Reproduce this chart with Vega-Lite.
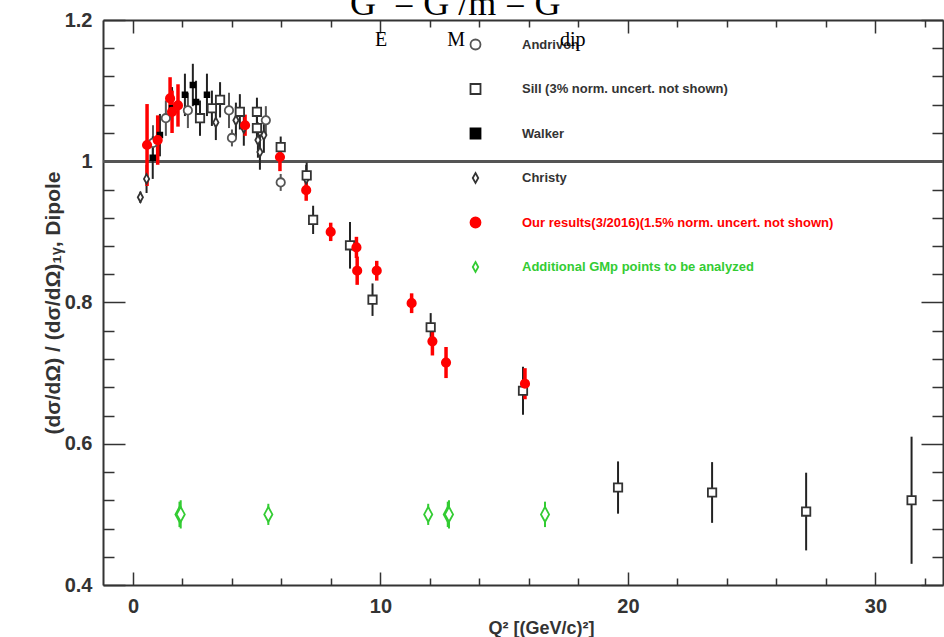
{
  "$schema": "https://vega.github.io/schema/vega-lite/v6.json",
  "width": 840,
  "height": 565,
  "autosize": {"type": "none"},
  "padding": {"left": 103, "top": 20, "right": 1, "bottom": 52},
  "background": "white",
  "config": {"view": {"stroke": null}},
  "title": {
    "text": "G\u00a0\u00a0= G\u00a0/m = G",
    "subtitle": "\u200b\u00a0\u00a0\u00a0\u00a0\u00a0E\u00a0\u00a0\u00a0\u00a0\u00a0\u00a0\u00a0\u00a0\u00a0\u00a0\u00a0\u00a0M\u00a0\u00a0\u00a0\u00a0\u00a0\u00a0\u00a0\u00a0\u00a0\u00a0\u00a0\u00a0\u00a0\u00a0\u00a0\u00a0\u00a0\u00a0\u00a0dip",
    "anchor": "start",
    "frame": "group",
    "dx": 247,
    "offset": -41,
    "font": "Liberation Serif",
    "fontSize": 36,
    "fontWeight": "normal",
    "color": "black",
    "subtitleFont": "Liberation Serif",
    "subtitleFontSize": 20,
    "subtitleColor": "black",
    "subtitlePadding": 7
  },
  "data": {
    "values": [
      {"s": "Christy", "q": 0.3, "v": 0.949, "lo": 0.941, "hi": 0.957},
      {"s": "Christy", "q": 0.55, "v": 0.975, "lo": 0.955, "hi": 0.995},
      {"s": "Christy", "q": 3.35, "v": 1.055, "lo": 1.03, "hi": 1.08},
      {"s": "Christy", "q": 4.16, "v": 1.058, "lo": 1.033, "hi": 1.083},
      {"s": "Christy", "q": 4.48, "v": 1.047, "lo": 1.022, "hi": 1.072},
      {"s": "Christy", "q": 5.05, "v": 1.03, "lo": 1.005, "hi": 1.055},
      {"s": "Christy", "q": 5.13, "v": 1.013, "lo": 0.988, "hi": 1.038},
      {"s": "Christy", "q": 5.29, "v": 1.037, "lo": 1.012, "hi": 1.062},
      {"s": "Christy", "q": 7.0, "v": 0.975, "lo": 0.955, "hi": 0.995},
      {"s": "Andrivon", "q": 0.81, "v": 1.026, "lo": 1.001, "hi": 1.051},
      {"s": "Andrivon", "q": 1.33, "v": 1.061, "lo": 1.036, "hi": 1.086},
      {"s": "Andrivon", "q": 2.22, "v": 1.072, "lo": 1.047, "hi": 1.097},
      {"s": "Andrivon", "q": 3.88, "v": 1.072, "lo": 1.047, "hi": 1.097},
      {"s": "Andrivon", "q": 4.0, "v": 1.033, "lo": 1.021, "hi": 1.045},
      {"s": "Andrivon", "q": 5.37, "v": 1.058, "lo": 1.038, "hi": 1.078},
      {"s": "Andrivon", "q": 5.97, "v": 0.97, "lo": 0.958, "hi": 0.982},
      {"s": "Sill (3% norm. uncert. not shown)", "q": 2.71, "v": 1.061, "lo": 1.036, "hi": 1.086},
      {"s": "Sill (3% norm. uncert. not shown)", "q": 3.19, "v": 1.075, "lo": 1.05, "hi": 1.1},
      {"s": "Sill (3% norm. uncert. not shown)", "q": 3.52, "v": 1.087, "lo": 1.062, "hi": 1.112},
      {"s": "Sill (3% norm. uncert. not shown)", "q": 4.32, "v": 1.07, "lo": 1.045, "hi": 1.095},
      {"s": "Sill (3% norm. uncert. not shown)", "q": 5.01, "v": 1.07, "lo": 1.05, "hi": 1.09},
      {"s": "Sill (3% norm. uncert. not shown)", "q": 5.01, "v": 1.047, "lo": 1.027, "hi": 1.067},
      {"s": "Sill (3% norm. uncert. not shown)", "q": 5.97, "v": 1.02, "lo": 1.005, "hi": 1.035},
      {"s": "Sill (3% norm. uncert. not shown)", "q": 7.02, "v": 0.98, "lo": 0.962, "hi": 0.998},
      {"s": "Sill (3% norm. uncert. not shown)", "q": 7.28, "v": 0.917, "lo": 0.897, "hi": 0.937},
      {"s": "Sill (3% norm. uncert. not shown)", "q": 8.77, "v": 0.881, "lo": 0.848, "hi": 0.914},
      {"s": "Sill (3% norm. uncert. not shown)", "q": 9.68, "v": 0.804, "lo": 0.781, "hi": 0.827},
      {"s": "Sill (3% norm. uncert. not shown)", "q": 12.03, "v": 0.765, "lo": 0.745, "hi": 0.785},
      {"s": "Sill (3% norm. uncert. not shown)", "q": 15.76, "v": 0.675, "lo": 0.641, "hi": 0.709},
      {"s": "Sill (3% norm. uncert. not shown)", "q": 19.6, "v": 0.538, "lo": 0.501, "hi": 0.575},
      {"s": "Sill (3% norm. uncert. not shown)", "q": 23.4, "v": 0.531, "lo": 0.488, "hi": 0.574},
      {"s": "Sill (3% norm. uncert. not shown)", "q": 27.2, "v": 0.504, "lo": 0.449, "hi": 0.559},
      {"s": "Sill (3% norm. uncert. not shown)", "q": 31.46, "v": 0.52, "lo": 0.43, "hi": 0.61},
      {"s": "Walker", "q": 0.8, "v": 1.005, "lo": 0.975, "hi": 1.035},
      {"s": "Walker", "q": 1.09, "v": 1.037, "lo": 1.007, "hi": 1.067},
      {"s": "Walker", "q": 1.58, "v": 1.075, "lo": 1.045, "hi": 1.105},
      {"s": "Walker", "q": 2.1, "v": 1.094, "lo": 1.064, "hi": 1.124},
      {"s": "Walker", "q": 2.42, "v": 1.108, "lo": 1.078, "hi": 1.138},
      {"s": "Walker", "q": 2.55, "v": 1.084, "lo": 1.054, "hi": 1.114},
      {"s": "Walker", "q": 2.99, "v": 1.094, "lo": 1.064, "hi": 1.124},
      {"s": "Additional GMp points to be analyzed", "q": 1.88, "v": 0.5, "lo": 0.482, "hi": 0.518},
      {"s": "Additional GMp points to be analyzed", "q": 1.93, "v": 0.5, "lo": 0.48, "hi": 0.52},
      {"s": "Additional GMp points to be analyzed", "q": 5.47, "v": 0.5, "lo": 0.485, "hi": 0.515},
      {"s": "Additional GMp points to be analyzed", "q": 11.93, "v": 0.5, "lo": 0.485, "hi": 0.515},
      {"s": "Additional GMp points to be analyzed", "q": 12.72, "v": 0.5, "lo": 0.482, "hi": 0.518},
      {"s": "Additional GMp points to be analyzed", "q": 12.77, "v": 0.5, "lo": 0.48, "hi": 0.52},
      {"s": "Additional GMp points to be analyzed", "q": 16.65, "v": 0.5, "lo": 0.482, "hi": 0.518},
      {"s": "Our results(3/2016)(1.5% norm. uncert. not shown)", "q": 0.57, "v": 1.023, "lo": 0.965, "hi": 1.081},
      {"s": "Our results(3/2016)(1.5% norm. uncert. not shown)", "q": 1.0, "v": 1.03, "lo": 0.995, "hi": 1.065},
      {"s": "Our results(3/2016)(1.5% norm. uncert. not shown)", "q": 1.5, "v": 1.089, "lo": 1.059, "hi": 1.119},
      {"s": "Our results(3/2016)(1.5% norm. uncert. not shown)", "q": 1.58, "v": 1.07, "lo": 1.04, "hi": 1.1},
      {"s": "Our results(3/2016)(1.5% norm. uncert. not shown)", "q": 1.82, "v": 1.079, "lo": 1.049, "hi": 1.109},
      {"s": "Our results(3/2016)(1.5% norm. uncert. not shown)", "q": 4.53, "v": 1.051, "lo": 1.036, "hi": 1.066},
      {"s": "Our results(3/2016)(1.5% norm. uncert. not shown)", "q": 5.94, "v": 1.006, "lo": 0.986, "hi": 1.026},
      {"s": "Our results(3/2016)(1.5% norm. uncert. not shown)", "q": 7.0, "v": 0.959, "lo": 0.944, "hi": 0.974},
      {"s": "Our results(3/2016)(1.5% norm. uncert. not shown)", "q": 7.99, "v": 0.9, "lo": 0.887, "hi": 0.913},
      {"s": "Our results(3/2016)(1.5% norm. uncert. not shown)", "q": 9.03, "v": 0.878, "lo": 0.863, "hi": 0.893},
      {"s": "Our results(3/2016)(1.5% norm. uncert. not shown)", "q": 9.06, "v": 0.845, "lo": 0.825, "hi": 0.865},
      {"s": "Our results(3/2016)(1.5% norm. uncert. not shown)", "q": 9.85, "v": 0.845, "lo": 0.831, "hi": 0.859},
      {"s": "Our results(3/2016)(1.5% norm. uncert. not shown)", "q": 11.26, "v": 0.799, "lo": 0.785, "hi": 0.813},
      {"s": "Our results(3/2016)(1.5% norm. uncert. not shown)", "q": 12.1, "v": 0.745, "lo": 0.725, "hi": 0.765},
      {"s": "Our results(3/2016)(1.5% norm. uncert. not shown)", "q": 12.65, "v": 0.715, "lo": 0.693, "hi": 0.737},
      {"s": "Our results(3/2016)(1.5% norm. uncert. not shown)", "q": 15.84, "v": 0.685, "lo": 0.663, "hi": 0.707}
    ]
  },
  "resolve": {"axis": {"x": "independent", "y": "independent"}},
  "layer": [
    {
      "mark": {"type": "rule", "color": "#555555", "strokeWidth": 2.5},
      "encoding": {
        "y": {"datum": 1, "type": "quantitative", "scale": {"domain": [0.4, 1.2], "nice": false, "zero": false}, "axis": null}
      }
    },
    {
      "mark": {"type": "rule"},
      "encoding": {
        "x": {
          "field": "q", "type": "quantitative",
          "scale": {"domain": [-1.21, 32.73], "nice": false, "zero": false},
          "axis": {
            "orient": "bottom",
            "values": [0, 2, 4, 6, 8, 10, 12, 14, 16, 18, 20, 22, 24, 26, 28, 30, 32],
            "labelExpr": "datum.value % 10 == 0 ? datum.label : ''",
            "tickSize": {"condition": {"test": "datum.value % 10 == 0", "value": -13}, "value": -7},
            "tickColor": "#333333", "tickWidth": 1.5,
            "domainColor": "#333333", "domainWidth": 2,
            "labelPadding": 24,
            "labelFont": "Liberation Sans", "labelFontWeight": "bold", "labelFontSize": 20, "labelColor": "#333333",
            "labelFlush": false, "labelOverlap": false, "labelBound": false,
            "grid": false,
            "title": "Q² [(GeV/c)²]",
            "titleFont": "Liberation Sans", "titleFontWeight": "bold", "titleFontSize": 18, "titleColor": "#333333",
            "titleX": 438, "titleY": 48, "titleBaseline": "alphabetic"
          }
        },
        "y": {
          "field": "lo", "type": "quantitative",
          "scale": {"domain": [0.4, 1.2], "nice": false, "zero": false},
          "axis": {
            "orient": "left",
            "values": [0.4, 0.44, 0.48, 0.52, 0.56, 0.6, 0.64, 0.68, 0.72, 0.76, 0.8, 0.84, 0.88, 0.92, 0.96, 1.0, 1.04, 1.08, 1.12, 1.16, 1.2],
            "labelExpr": "round(datum.value*100) % 20 == 0 ? format(datum.value, '~g') : ''",
            "tickSize": {"condition": {"test": "round(datum.value*100) % 20 == 0", "value": -22}, "value": -11},
            "tickColor": "#333333", "tickWidth": 1.5,
            "domainColor": "#333333", "domainWidth": 2,
            "labelPadding": 33,
            "labelFont": "Liberation Sans", "labelFontWeight": "bold", "labelFontSize": 20, "labelColor": "#333333",
            "labelFlush": false, "labelOverlap": false, "labelBound": false,
            "grid": false,
            "title": "(dσ/dΩ) / (dσ/dΩ)₁ᵧ, Dipole",
            "titleFont": "Liberation Sans", "titleFontWeight": "bold", "titleFontSize": 21, "titleColor": "#333333",
            "titlePadding": 1
          }
        },
        "y2": {"field": "hi"},
        "color": {
          "condition": [
            {"test": "indexof(datum.s, 'Our results') == 0", "value": "#ff0000"},
            {"test": "indexof(datum.s, 'Additional') == 0", "value": "#33cc33"},
            {"test": "datum.s == 'Andrivon'", "value": "#555555"}
          ],
          "value": "#222222"
        },
        "strokeWidth": {"condition": {"test": "indexof(datum.s, 'Our results') == 0", "value": 3.5}, "value": 2}
      }
    },
    {
      "mark": {"type": "point", "strokeWidth": 1.8, "opacity": 1},
      "encoding": {
        "x": {
          "field": "q", "type": "quantitative",
          "axis": {
            "orient": "top",
            "values": [0, 2, 4, 6, 8, 10, 12, 14, 16, 18, 20, 22, 24, 26, 28, 30, 32],
            "labels": false,
            "tickSize": {"condition": {"test": "datum.value % 10 == 0", "value": -13}, "value": -7},
            "tickColor": "#333333", "tickWidth": 1.5,
            "domainColor": "#333333", "domainWidth": 2,
            "grid": false, "title": null
          }
        },
        "y": {
          "field": "v", "type": "quantitative",
          "axis": {
            "orient": "right",
            "values": [0.4, 0.44, 0.48, 0.52, 0.56, 0.6, 0.64, 0.68, 0.72, 0.76, 0.8, 0.84, 0.88, 0.92, 0.96, 1.0, 1.04, 1.08, 1.12, 1.16, 1.2],
            "labels": false,
            "tickSize": {"condition": {"test": "round(datum.value*100) % 20 == 0", "value": -22}, "value": -11},
            "tickColor": "#333333", "tickWidth": 1.5,
            "domainColor": "#333333", "domainWidth": 2,
            "grid": false, "title": null
          }
        },
        "shape": {
          "field": "s", "type": "nominal",
          "scale": {
            "domain": ["Andrivon", "Sill (3% norm. uncert. not shown)", "Walker", "Christy", "Our results(3/2016)(1.5% norm. uncert. not shown)", "Additional GMp points to be analyzed"],
            "range": ["circle", "square", "square", "M0,-1L0.55,0L0,1L-0.55,0Z", "circle", "M0,-1L0.55,0L0,1L-0.55,0Z"]
          },
          "legend": {
            "title": null, "orient": "none", "legendX": 366, "legendY": 18,
            "rowPadding": 25.5, "labelOffset": 40,
            "labelFont": "Liberation Sans", "labelFontWeight": "bold", "labelFontSize": 13, "labelLimit": 400,
            "labelColor": {"expr": "indexof(datum.value, 'Our results') == 0 ? '#ff0000' : (indexof(datum.value, 'Additional') == 0 ? '#33cc33' : '#333333')"},
            "symbolStrokeWidth": 1.8, "symbolFillColor": "#ffffff", "symbolStrokeColor": "#333333",
            "padding": 0
          }
        },
        "stroke": {
          "field": "s", "type": "nominal",
          "scale": {
            "domain": ["Andrivon", "Sill (3% norm. uncert. not shown)", "Walker", "Christy", "Our results(3/2016)(1.5% norm. uncert. not shown)", "Additional GMp points to be analyzed"],
            "range": ["#555555", "#333333", "#000000", "#333333", "#ff0000", "#33cc33"]
          },
          "legend": {
            "title": null, "orient": "none", "legendX": 366, "legendY": 18,
            "rowPadding": 25.5, "labelOffset": 40,
            "labelFont": "Liberation Sans", "labelFontWeight": "bold", "labelFontSize": 13, "labelLimit": 400,
            "labelColor": {"expr": "indexof(datum.value, 'Our results') == 0 ? '#ff0000' : (indexof(datum.value, 'Additional') == 0 ? '#33cc33' : '#333333')"},
            "symbolStrokeWidth": 1.8, "symbolFillColor": "#ffffff", "symbolStrokeColor": "#333333",
            "padding": 0
          }
        },
        "fill": {
          "field": "s", "type": "nominal",
          "scale": {
            "domain": ["Andrivon", "Sill (3% norm. uncert. not shown)", "Walker", "Christy", "Our results(3/2016)(1.5% norm. uncert. not shown)", "Additional GMp points to be analyzed"],
            "range": ["#ffffff", "#ffffff", "#000000", "#ffffff", "#ff0000", "#ffffff"]
          },
          "legend": {
            "title": null, "orient": "none", "legendX": 366, "legendY": 18,
            "rowPadding": 25.5, "labelOffset": 40,
            "labelFont": "Liberation Sans", "labelFontWeight": "bold", "labelFontSize": 13, "labelLimit": 400,
            "labelColor": {"expr": "indexof(datum.value, 'Our results') == 0 ? '#ff0000' : (indexof(datum.value, 'Additional') == 0 ? '#33cc33' : '#333333')"},
            "symbolStrokeWidth": 1.8, "symbolFillColor": "#ffffff", "symbolStrokeColor": "#333333",
            "padding": 0
          }
        },
        "size": {
          "condition": [
            {"test": "datum.s == 'Walker'", "value": 22},
            {"test": "indexof(datum.s, 'Additional') == 0", "value": 220},
            {"test": "datum.s == 'Christy'", "value": 90}
          ],
          "value": 70
        }
      }
    }
  ]
}
